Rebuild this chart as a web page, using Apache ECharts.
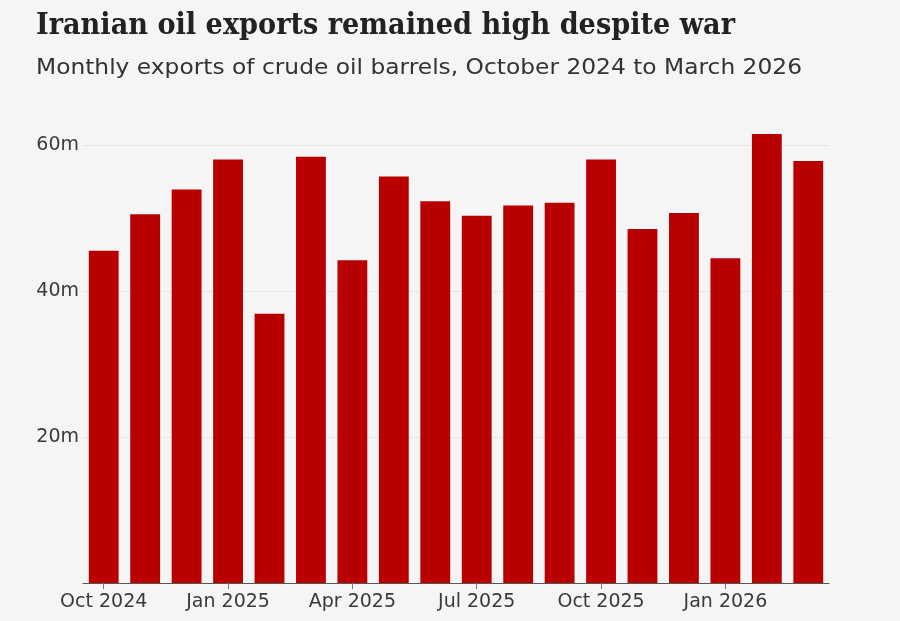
<!DOCTYPE html>
<html>
<head>
<meta charset="utf-8">
<script src="https://cdn.jsdelivr.net/npm/echarts@6/dist/echarts.min.js"></script>
<style>
  html, body { margin: 0; padding: 0; background: #f5f5f5; }
  #chart { width: 900px; height: 621px; }
</style>
</head>
<body>
<div id="chart"></div>
<script>
const titleText = "Iranian oil exports remained high despite war";
const subtitleText = "Monthly exports of crude oil barrels, October 2024 to March 2026";
const months = ["Oct 2024","Nov 2024","Dec 2024","Jan 2025","Feb 2025","Mar 2025","Apr 2025","May 2025","Jun 2025","Jul 2025","Aug 2025","Sep 2025","Oct 2025","Nov 2025","Dec 2025","Jan 2026","Feb 2026","Mar 2026"];
const exportsMillions = [45.5, 50.5, 53.9, 58.0, 36.9, 58.4, 44.2, 55.7, 52.3, 50.3, 51.7, 52.1, 58.0, 48.5, 50.7, 44.5, 61.5, 57.8];
const yTicks = [20, 40, 60];

function measure(text, font) {
  const c = document.createElement('canvas').getContext('2d');
  c.font = font;
  return c.measureText(text).width;
}
const titleFont = "bold 30px 'DejaVu Serif'";
const subFont = "21px 'DejaVu Sans'";
const titleScale = 699 / measure(titleText, titleFont);
const subScale = 766 / measure(subtitleText, subFont);

const chart = echarts.init(document.getElementById('chart'), null, { renderer: 'canvas' });
chart.setOption({
  backgroundColor: '#f5f5f5',
  animation: false,
  graphic: [
    { type: 'text', left: 36, top: 11, scaleX: titleScale, originX: 0,
      style: { text: titleText, font: titleFont, fill: '#222222' } },
    { type: 'text', left: 36, top: 58, scaleX: subScale, originX: 0,
      style: { text: subtitleText, font: subFont, fill: '#333333' } }
  ],
  grid: { left: 83, right: 71, top: 145, bottom: 38, containLabel: false },
  xAxis: {
    type: 'category',
    data: months,
    axisLine: { show: true, lineStyle: { color: '#555555', width: 1 } },
    axisTick: { show: true, alignWithLabel: true, interval: 2, length: 6, lineStyle: { color: '#777777' } },
    axisLabel: { interval: 2, margin: 10, color: '#3a3a3a', fontSize: 19, fontFamily: 'DejaVu Sans' },
    splitLine: { show: false }
  },
  yAxis: {
    type: 'value',
    min: 0, max: 60, interval: 20,
    axisLine: { show: false },
    axisTick: { show: false },
    axisLabel: {
      margin: 4, color: '#3a3a3a', fontSize: 19, fontFamily: 'DejaVu Sans', padding: [4, 0, 0, 0],
      formatter: v => (yTicks.indexOf(v) >= 0 ? v + 'm' : '')
    },
    splitLine: { show: true, lineStyle: { color: '#e6e6e6', width: 1 } }
  },
  series: [{
    type: 'bar',
    data: exportsMillions,
    clip: false,
    barWidth: '72%',
    itemStyle: { color: '#b80000' },
    emphasis: { disabled: true }
  }]
});
</script>
</body>
</html>
